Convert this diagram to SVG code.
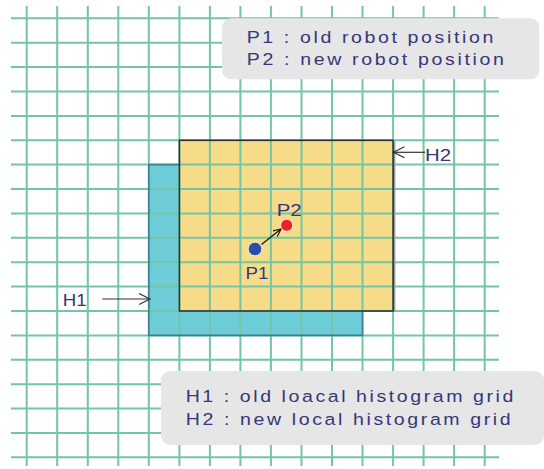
<svg xmlns="http://www.w3.org/2000/svg" width="544" height="469" viewBox="0 0 544 469">
<style>
.grid line{stroke:#72c6a5;stroke-width:2}
.lbl{font-family:"Liberation Sans",Arial,sans-serif;font-size:17px;fill:#35377a}
.legend{fill:#e6e6e6}
.conn{stroke:#333;stroke-width:1.2;fill:none}
</style>
<defs>
<marker id="chev" markerUnits="userSpaceOnUse" markerWidth="14" markerHeight="14" refX="12" refY="6" orient="auto">
<path d="M1,0.5 L12,6 L1,11.5" fill="none" stroke="#333" stroke-width="1.2"/>
</marker>
<marker id="chevS" markerUnits="userSpaceOnUse" markerWidth="10" markerHeight="10" refX="8" refY="4" orient="auto">
<path d="M0.5,0.5 L8,4 L0.5,7.5" fill="none" stroke="#111" stroke-width="1.1"/>
</marker>
</defs>
<rect width="544" height="469" fill="#fff"/>
<g id="H1-fill"><rect x="148.8" y="164.6" width="213.7" height="170.8" fill="#6ecbd8"/></g>
<g id="H2-fill"><rect x="179.4" y="140.3" width="213.7" height="170.7" fill="#f6dc88"/></g>
<g class="grid" id="grid">
<line x1="26.7" y1="6" x2="26.7" y2="466"/>
<line x1="57.2" y1="6" x2="57.2" y2="466"/>
<line x1="87.8" y1="6" x2="87.8" y2="466"/>
<line x1="118.3" y1="6" x2="118.3" y2="466"/>
<line x1="148.8" y1="6" x2="148.8" y2="466"/>
<line x1="179.4" y1="6" x2="179.4" y2="466"/>
<line x1="209.9" y1="6" x2="209.9" y2="466"/>
<line x1="240.4" y1="6" x2="240.4" y2="466"/>
<line x1="270.9" y1="6" x2="270.9" y2="466"/>
<line x1="301.5" y1="6" x2="301.5" y2="466"/>
<line x1="332" y1="6" x2="332" y2="466"/>
<line x1="362.5" y1="6" x2="362.5" y2="466"/>
<line x1="393.1" y1="6" x2="393.1" y2="466"/>
<line x1="423.6" y1="6" x2="423.6" y2="466"/>
<line x1="454.1" y1="6" x2="454.1" y2="466"/>
<line x1="484.7" y1="6" x2="484.7" y2="466"/>
<line x1="11" y1="18.3" x2="499" y2="18.3"/>
<line x1="11" y1="42.7" x2="499" y2="42.7"/>
<line x1="11" y1="67.1" x2="499" y2="67.1"/>
<line x1="11" y1="91.5" x2="499" y2="91.5"/>
<line x1="11" y1="115.9" x2="499" y2="115.9"/>
<line x1="11" y1="140.3" x2="499" y2="140.3"/>
<line x1="11" y1="164.6" x2="499" y2="164.6"/>
<line x1="11" y1="189" x2="499" y2="189"/>
<line x1="11" y1="213.4" x2="499" y2="213.4"/>
<line x1="11" y1="237.8" x2="499" y2="237.8"/>
<line x1="11" y1="262.2" x2="499" y2="262.2"/>
<line x1="11" y1="286.6" x2="499" y2="286.6"/>
<line x1="11" y1="311" x2="499" y2="311"/>
<line x1="11" y1="335.4" x2="499" y2="335.4"/>
<line x1="11" y1="359.8" x2="499" y2="359.8"/>
<line x1="11" y1="384.2" x2="499" y2="384.2"/>
<line x1="11" y1="408.5" x2="499" y2="408.5"/>
<line x1="11" y1="432.9" x2="499" y2="432.9"/>
<line x1="11" y1="457.3" x2="499" y2="457.3"/>
</g>
<g id="H1">
<path d="M179.4,164.6 H148.8 V335.4 H362.5 V311" fill="none" stroke="#3f7f96" stroke-width="1.6"/>
</g>
<g id="H2">
<line x1="394.6" y1="141.5" x2="394.6" y2="312" stroke="#999" stroke-width="1.5"/>
<rect x="179.4" y="140.3" width="213.7" height="170.7" fill="none" stroke="#2f2f2f" stroke-width="1.5"/>
</g>
<g id="connectors">
<line class="conn" x1="102.3" y1="299" x2="150" y2="299" marker-end="url(#chev)"/>
<line class="conn" x1="425" y1="152.3" x2="393.5" y2="152.3" marker-end="url(#chev)"/>
<line class="conn" x1="261.5" y1="244.5" x2="281" y2="229" marker-end="url(#chevS)" style="stroke:#111"/>
</g>
<g id="P1">
<circle cx="255" cy="249" r="6.8" fill="#2b4fa5" stroke="#fff" stroke-width="0.8"/>
<text class="lbl" transform="translate(245.5,278.5) scale(1.1,1)">P1</text>
</g>
<g id="P2">
<circle cx="286.7" cy="225.3" r="6" fill="#e8212a" stroke="#fff" stroke-width="0.8"/>
<text class="lbl" transform="translate(276.7,216) scale(1.2,1)">P2</text>
</g>
<g id="H1-label"><text class="lbl" transform="translate(62.7,306) scale(1.1,1)">H1</text></g>
<g id="H2-label"><text class="lbl" transform="translate(425,161) scale(1.2,1)">H2</text></g>
<g id="legend-P">
<rect class="legend" x="222" y="18.3" width="317.3" height="61" rx="9"/>
<text class="lbl" transform="translate(246.7,42.5) scale(1.15,1)" textLength="214.4" lengthAdjust="spacing">P1 : old robot position</text>
<text class="lbl" transform="translate(246.7,65.2) scale(1.15,1)" textLength="223.7" lengthAdjust="spacing">P2 : new robot position</text>
</g>
<g id="legend-H">
<rect class="legend" x="161" y="371" width="383" height="74" rx="9"/>
<text class="lbl" transform="translate(185.7,401.9) scale(1.15,1)" textLength="284.9" lengthAdjust="spacing">H1 : old loacal histogram grid</text>
<text class="lbl" transform="translate(185.7,425.2) scale(1.15,1)" textLength="282.6" lengthAdjust="spacing">H2 : new local histogram grid</text>
</g>
</svg>
